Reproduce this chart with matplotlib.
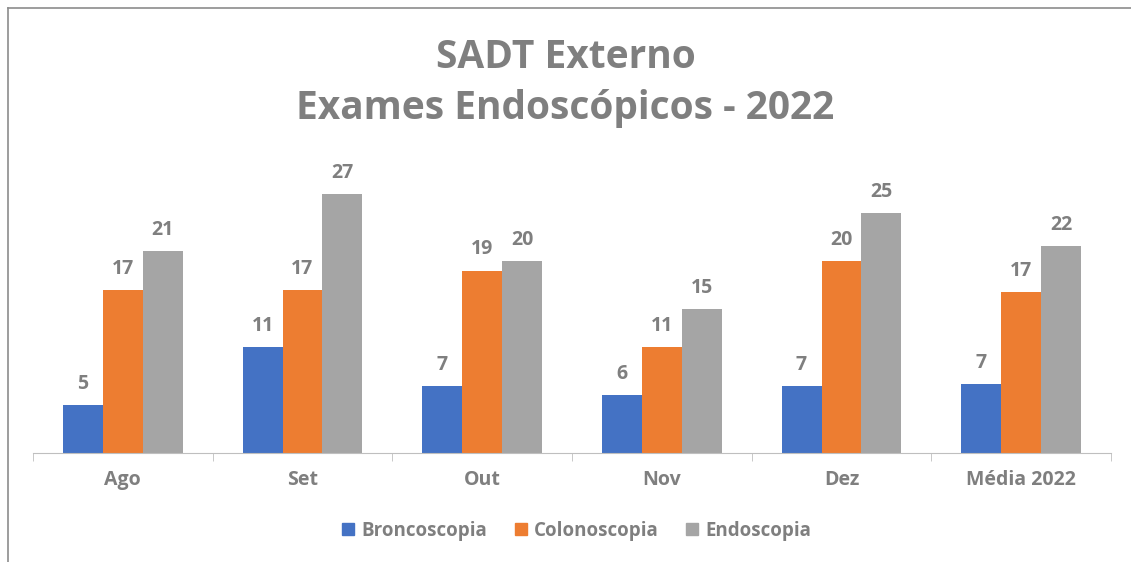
import matplotlib.pyplot as plt
import numpy as np
from matplotlib.lines import Line2D

categories = ["Ago", "Set", "Out", "Nov", "Dez", "Média 2022"]
series_names = ["Broncoscopia", "Colonoscopia", "Endoscopia"]
broncoscopia = [5, 11, 7, 6, 7, 7.2]
colonoscopia = [17, 17, 19, 11, 20, 16.8]
endoscopia = [21, 27, 20, 15, 25, 21.6]

colors = ["#4472C4", "#ED7D31", "#A5A5A5"]
txt = "#7F7F7F"

plt.rcParams['font.family'] = ['Open Sans', 'DejaVu Sans']

fig = plt.figure(figsize=(11.31, 5.62), dpi=100)
ax = fig.add_axes([33/1131, 109/562, (1111-33)/1131, 288/562])

x = np.arange(len(categories))
w = 0.667 / 3
for i, (vals, name) in enumerate(zip([broncoscopia, colonoscopia, endoscopia], series_names)):
    pos = x + (i - 1) * w
    bars = ax.bar(pos, vals, width=w, color=colors[i], label=name)
    for b, v in zip(bars, vals):
        ax.annotate("{0:.0f}".format(v), (b.get_x() + b.get_width()/2, b.get_height()),
                    xytext=(0, 8), textcoords="offset points", ha="center", va="bottom",
                    fontsize=14, fontweight="bold", color=txt)

ax.set_xlim(-0.5, len(categories) - 0.5)
ax.set_ylim(0, 30)
ax.set_yticks([])
for s in ["top", "right", "left"]:
    ax.spines[s].set_visible(False)
ax.spines["bottom"].set_color("#BFBFBF")
ax.set_xticks(x)
ax.set_xticklabels(categories, fontsize=14, fontweight="bold", color=txt)
ax.tick_params(axis="x", length=0, pad=12)
ax.set_xticks(np.arange(-0.5, len(categories), 1.0), minor=True)
ax.tick_params(axis="x", which="minor", length=6, color="#BFBFBF")

fig.text(0.5, 1 - 57/562, "SADT Externo", ha="center", va="center",
         fontsize=28, fontweight="bold", color=txt)
fig.text(0.5, 1 - 108/562, "Exames Endoscópicos - 2022", ha="center", va="center",
         fontsize=28, fontweight="bold", color=txt)

handles = [Line2D([], [], marker="s", linestyle="none", markersize=8,
                  color=c) for c in colors]
fig.legend(handles, series_names, loc="center", bbox_to_anchor=(576/1131, 1 - 531/562),
           ncol=3, frameon=False, handlelength=0.8, handletextpad=0.3, columnspacing=1.4,
           prop={"size": 13.5, "weight": "bold"}, labelcolor=txt)

# chart frame (top and left edges visible)
fig.add_artist(Line2D([8/1131, 8/1131], [0, 1 - 8/562], transform=fig.transFigure,
                      color="#8C8C8C", linewidth=1.2))
fig.add_artist(Line2D([8/1131, 1], [1 - 8/562, 1 - 8/562], transform=fig.transFigure,
                      color="#8C8C8C", linewidth=1.2))

fig.savefig("out.png", dpi=100)
